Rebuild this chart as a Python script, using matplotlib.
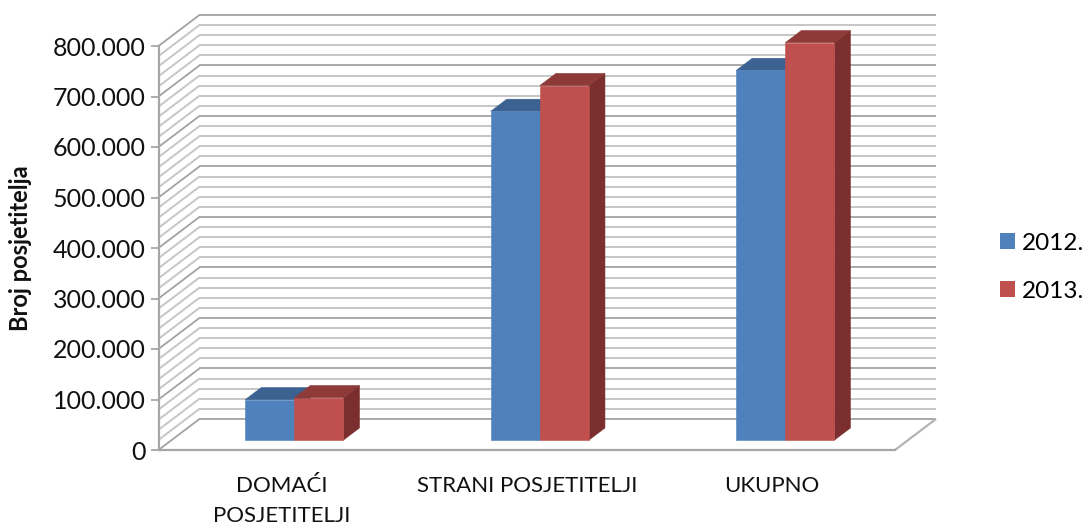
import matplotlib
matplotlib.use('Agg')
import matplotlib.pyplot as plt
import numpy as np
from matplotlib.patches import Patch, Polygon

plt.rcParams['font.family'] = ['Lato', 'DejaVu Sans']

categories = ['DOMAĆI\nPOSJETITELJI', 'STRANI POSJETITELJI', 'UKUPNO']
series_names = ['2012.', '2013.']
values_2012 = [80000, 651000, 732000]
values_2013 = [84000, 702000, 787000]
major_ticks = [0, 100000, 200000, 300000, 400000, 500000, 600000, 700000, 800000]
tick_labels = ['0', '100.000', '200.000', '300.000', '400.000', '500.000', '600.000', '700.000', '800.000']
minor_step = 20000

W, H = 1086, 526
fig = plt.figure(figsize=(W / 100, H / 100), dpi=100)
ax = fig.add_axes([158.5 / W, 1 - 450 / H, (895 - 158.5) / W, (450 - 46) / H])
ax.set_xlim(0, 3)
ax.set_ylim(0, 800000)

# depth of the fake 3d box, in axis units
depth_x = 0.167
depth_y = 61500


def proj(x, y, d):
    return x + depth_x * d, y + depth_y * d


def line3(x0, y0, d0, x1, y1, d1, **kw):
    a = proj(x0, y0, d0)
    b = proj(x1, y1, d1)
    ax.plot([a[0], b[0]], [a[1], b[1]], clip_on=False, solid_capstyle='butt', **kw)


# walls
for v in np.arange(0, 800001, minor_step):
    major = v % 100000 == 0
    col = '#a2a2a2' if major else '#c6c6c6'
    lw = 1.3 if major else 1.4
    line3(0, v, 0, 0, v, 1, color=col, lw=lw, zorder=1)
    line3(0, v, 1, 3, v, 1, color=col, lw=lw, zorder=1)

# floor
line3(3, 0, 0, 3, 0, 1, color='#b4b4b4', lw=1.6, zorder=1)

bar_w = 0.2
front_d = 0.32
back_d = 0.71
colors = [('#4f81bd', '#3b6290', '#2f4f76'), ('#c0504d', '#8e3a38', '#7a2f2e')]


def draw_bar(x0, v, cols):
    x1 = x0 + bar_w
    front = [proj(x0, 0, front_d), proj(x1, 0, front_d), proj(x1, v, front_d), proj(x0, v, front_d)]
    top = [proj(x0, v, front_d), proj(x1, v, front_d), proj(x1, v, back_d), proj(x0, v, back_d)]
    side = [proj(x1, 0, front_d), proj(x1, 0, back_d), proj(x1, v, back_d), proj(x1, v, front_d)]
    for pts, c in [(side, cols[2]), (top, cols[1]), (front, cols[0])]:
        ax.add_patch(Polygon(pts, closed=True, facecolor=c, edgecolor=c, lw=0.4, clip_on=False, zorder=3))


for i in range(len(categories)):
    centre = i + 0.5
    draw_bar(centre - bar_w, values_2012[i], colors[0])
    draw_bar(centre, values_2013[i], colors[1])

# axes
for s in ['top', 'right']:
    ax.spines[s].set_visible(False)
for s in ['left', 'bottom']:
    ax.spines[s].set_color('#a6a6a6')
    ax.spines[s].set_linewidth(1.6)
ax.patch.set_visible(False)
ax.set_yticks(major_ticks)
ax.set_yticklabels(tick_labels, fontsize=18, color='#111111')
ax.tick_params(axis='y', length=6, width=1.2, color='#a0a0a0', pad=3)
ax.set_xticks(np.arange(len(categories)) + 0.5)
ax.set_xticklabels(categories, fontsize=16, color='#111111', linespacing=1.62)
ax.tick_params(axis='x', length=0, pad=19)
ax.set_ylabel('Broj posjetitelja', fontsize=17, fontweight='bold', color='#111111')
ax.yaxis.set_label_coords(-0.172, 0.5)

handles = [Patch(facecolor=colors[0][0], label=series_names[0]),
           Patch(facecolor=colors[1][0], label=series_names[1])]
fig.legend(handles=handles, loc='upper left', bbox_to_anchor=(995 / W, 1 - 228 / H), frameon=False,
           fontsize=17.5, handlelength=0.62, handleheight=0.62, handletextpad=0.29,
           labelspacing=1.1, borderpad=0.2, borderaxespad=0)

fig.savefig('out.png', dpi=100)
